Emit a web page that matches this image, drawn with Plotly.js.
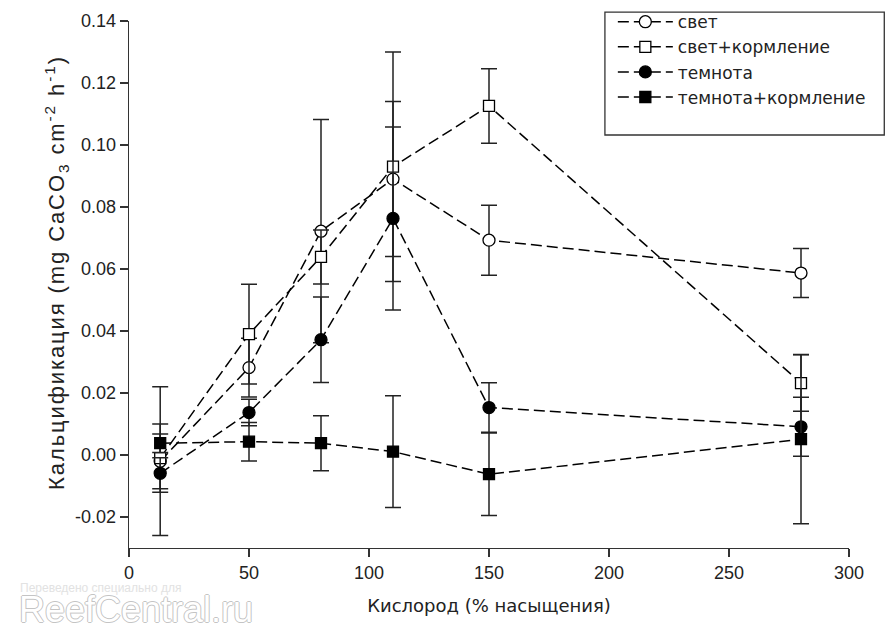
<!DOCTYPE html>
<html>
<head>
<meta charset="utf-8">
<script src="https://cdn.plot.ly/plotly-3.0.1.min.js"></script>
<style>
html,body{margin:0;padding:0;background:#fff;}
#chart{width:886px;height:632px;}
#chart .g-ytitle text{letter-spacing:1.9px;}
</style>
</head>
<body>
<div id="chart"></div>
<script>
// Oxygen, % saturation
const oxygen = [13, 50, 80, 110, 150, 280];

const seriesNames = ["свет", "свет+кормление", "темнота", "темнота+кормление"];

const light      = [-0.002, 0.0282, 0.0722, 0.089, 0.0693, 0.0587];
const lightErr   = [0.024, 0.0095, 0.036, 0.025, 0.0113, 0.0079];

const lightFeed    = [-0.001, 0.039, 0.0639, 0.093, 0.1126, 0.0232];
const lightFeedErr = [0.011, 0.0161, 0.0087, 0.037, 0.012, 0.0091];

const dark      = [-0.0059, 0.0137, 0.0372, 0.0763, 0.0153, 0.0091];
const darkErr   = [0.005, 0.0043, 0.0138, 0.0295, 0.008, 0.0095];

const darkFeed    = [0.0038, 0.0043, 0.0038, 0.0011, -0.0062, 0.0051];
const darkFeedErr = [0.003, 0.0062, 0.0089, 0.018, 0.0133, 0.0273];

const yTicks = [-0.02, 0, 0.02, 0.04, 0.06, 0.08, 0.10, 0.12, 0.14];
const xTicks = [0, 50, 100, 150, 200, 250, 300];

function mk(name, y, err, symbol, fill) {
  return {
    type: "scatter", mode: "lines+markers", name: name,
    x: oxygen, y: y,
    line: {color: "#000", width: 1.5, dash: "11px,5px"},
    marker: {symbol: symbol, size: symbol === "square" ? 11 : 12, color: fill, line: {color: "#000", width: 1.3}},
    error_y: {type: "data", array: err, visible: true, color: "#222", thickness: 1.5, width: 8}
  };
}

const data = [
  mk(seriesNames[0], light, lightErr, "circle", "#fff"),
  mk(seriesNames[1], lightFeed, lightFeedErr, "square", "#fff"),
  mk(seriesNames[2], dark, darkErr, "circle", "#000"),
  mk(seriesNames[3], darkFeed, darkFeedErr, "square", "#000")
];

const axisFont = {family: "Liberation Sans, Arial, sans-serif", size: 18, color: "#222"};

const layout = {
  width: 886, height: 632,
  margin: {l: 129, r: 37, t: 21, b: 84, autoexpand: false},
  paper_bgcolor: "#fff", plot_bgcolor: "#fff",
  showlegend: true,
  legend: {
    x: 0.672, y: 1.032, xanchor: "left", yanchor: "top",
    bgcolor: "rgba(0,0,0,0)", borderwidth: 0,
    font: {family: "DejaVu Sans, sans-serif", size: 17, color: "#222"},
    itemwidth: 55, tracegroupgap: 0
  },
  xaxis: {
    range: [0, 300], tickvals: xTicks, ticktext: xTicks.map(String),
    showgrid: false, zeroline: false, showline: true, linecolor: "#333", linewidth: 1.3,
    ticks: "outside", ticklen: 8, tickwidth: 1.3, tickcolor: "#333",
    tickfont: axisFont,
    title: {text: "Кислород (% насыщения)", font: {family: "DejaVu Sans, sans-serif", size: 18, color: "#222"}, standoff: 17}
  },
  yaxis: {
    range: [-0.03, 0.14], tickvals: yTicks, ticktext: yTicks.map(v => v.toFixed(2)),
    showgrid: false, zeroline: false, showline: true, linecolor: "#333", linewidth: 1.3,
    ticks: "outside", ticklen: 8, tickwidth: 1.3, tickcolor: "#333",
    tickfont: axisFont,
    title: {text: "&nbsp;&nbsp;&nbsp;Кальцификация (mg CaCO<sub>3</sub> cm<sup>-2</sup> h<sup>-1</sup>)", font: {family: "Liberation Sans, Arial, sans-serif", size: 22, color: "#222"}, standoff: 4}
  },
  shapes: [{
    type: "rect", xref: "paper", yref: "paper",
    x0: 0.661, x1: 1.049, y0: 0.7837, y1: 1.017,
    line: {color: "#333", width: 1.3}, fillcolor: "rgba(0,0,0,0)"
  }],
  annotations: [
    {xref: "paper", yref: "paper", x: -0.154, y: -0.076, xanchor: "left", yanchor: "middle", showarrow: false,
     text: "Переведено специально для", font: {family: "Liberation Sans, Arial, sans-serif", size: 12, color: "#e2e2e2"}},
    {xref: "paper", yref: "paper", x: -0.156, y: -0.116, xanchor: "left", yanchor: "middle", showarrow: false,
     text: "ReefCentral.ru", font: {family: "Liberation Sans, Arial, sans-serif", size: 36, color: "#ffffff",
       shadow: "1px 0 0 #c4c4c4, -1px 0 0 #c4c4c4, 0 1px 0 #c4c4c4, 0 -1px 0 #c4c4c4"}}
  ]
};

Plotly.newPlot("chart", data, layout, {displayModeBar: false, staticPlot: true});
</script>
</body>
</html>
